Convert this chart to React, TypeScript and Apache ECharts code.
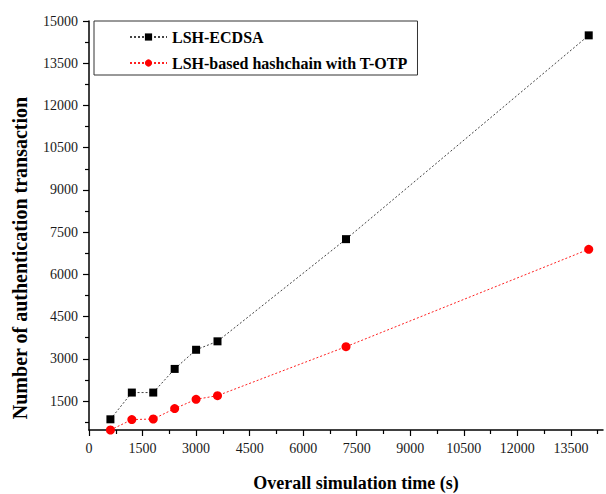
import { useEffect, useRef } from "react";
import * as echarts from "echarts";

const seriesNames = ["LSH-ECDSA", "LSH-based hashchain with T-OTP"];
const xValues = [600, 1200, 1800, 2400, 3000, 3600, 7200, 14000];
const ecdsaValues = [850, 1800, 1800, 2640, 3320, 3620, 7250, 14490];
const hashchainValues = [470, 840, 860, 1230, 1560, 1690, 3430, 6890];

const xTicks = [0, 1500, 3000, 4500, 6000, 7500, 9000, 10500, 12000, 13500];
const xMinorTicks = [750, 2250, 3750, 5250, 6750, 8250, 9750, 11250, 12750, 14250];
const yTicks = [1500, 3000, 4500, 6000, 7500, 9000, 10500, 12000, 13500, 15000];
const yMinorTicks = [750, 2250, 3750, 5250, 6750, 8250, 9750, 11250, 12750, 14250];

const xTitle = "Overall simulation time (s)";
const yTitle = "Number of authentication transaction";

const FONT = '"Liberation Serif", "Times New Roman", serif';

export default function App() {
  const ref = useRef<HTMLDivElement>(null);
  useEffect(() => {
    if (!ref.current) return;
    const chart = echarts.init(ref.current, null, { renderer: "svg" });
    const xMin = 0, xMax = 14400, yMin = 470, yMax = 15000;
    const axisLine = { show: true, lineStyle: { color: "#000", width: 1.5 } };
    const labelStyle = {
      color: "#1a1a1a",
      fontFamily: FONT,
      fontSize: 14,
      formatter: (v: number) => String(v),
    };
    chart.setOption({
      animation: false,
      backgroundColor: "#fff",
      grid: { left: 89, right: 3, top: 21, bottom: 64 },
      legend: {
        orient: "vertical",
        left: 94,
        top: 21,
        data: seriesNames,
        borderColor: "#333",
        borderWidth: 1,
        backgroundColor: "#fff",
        padding: [6, 10, 2, 35],
        itemGap: 6,
        itemWidth: 37,
        itemHeight: 9,
        textStyle: { fontFamily: FONT, fontSize: 16, fontWeight: "bold", color: "#000", lineHeight: 20 },
      },
      xAxis: [
        {
          type: "value",
          min: xMin,
          max: xMax,
          position: "bottom",
          axisLine,
          axisTick: { show: true, inside: false, length: 6, customValues: xTicks, lineStyle: { color: "#000", width: 1.2 } },
          axisLabel: { ...labelStyle, margin: 11, customValues: xTicks },
          splitLine: { show: false },
        },
        {
          type: "value",
          min: xMin,
          max: xMax,
          position: "bottom",
          offset: 0,
          axisLine: { show: false },
          axisTick: { show: true, inside: false, length: 4, customValues: xMinorTicks, lineStyle: { color: "#000", width: 1.2 } },
          axisLabel: { show: false },
          splitLine: { show: false },
        },
      ],
      yAxis: [
        {
          type: "value",
          min: yMin,
          max: yMax,
          position: "left",
          axisLine,
          axisTick: { show: true, inside: false, length: 6, customValues: yTicks, lineStyle: { color: "#000", width: 1.2 } },
          axisLabel: { ...labelStyle, margin: 11, customValues: yTicks },
          splitLine: { show: false },
        },
        {
          type: "value",
          min: yMin,
          max: yMax,
          position: "left",
          offset: 0,
          axisLine: { show: false },
          axisTick: { show: true, inside: false, length: 4, customValues: yMinorTicks, lineStyle: { color: "#000", width: 1.2 } },
          axisLabel: { show: false },
          splitLine: { show: false },
        },
      ],
      series: [
        {
          name: seriesNames[0],
          type: "line",
          data: xValues.map((x, i) => [x, ecdsaValues[i]]),
          symbol: "rect",
          symbolSize: 8,
          itemStyle: { color: "#000" },
          lineStyle: { color: "#444", width: 1, type: [2, 2] },
          clip: false,
        },
        {
          name: seriesNames[1],
          type: "line",
          data: xValues.map((x, i) => [x, hashchainValues[i]]),
          symbol: "circle",
          symbolSize: 9,
          itemStyle: { color: "#ff0000" },
          lineStyle: { color: "#ff2020", width: 1, type: [2, 2] },
          clip: false,
        },
      ],
      graphic: [
        {
          type: "text",
          x: 356,
          y: 483,
          style: { text: xTitle, fontFamily: FONT, fontSize: 18, fontWeight: "bold", fill: "#000", align: "center", verticalAlign: "middle" },
        },
        {
          type: "text",
          x: 20,
          y: 258,
          rotation: Math.PI / 2,
          style: { text: yTitle, fontFamily: FONT, fontSize: 20, fontWeight: "bold", fill: "#000", align: "center", verticalAlign: "middle" },
        },
      ],
    });
    return () => chart.dispose();
  }, []);
  return <div ref={ref} style={{ position: "fixed", left: 0, top: 0, width: 606, height: 494 }} />;
}
